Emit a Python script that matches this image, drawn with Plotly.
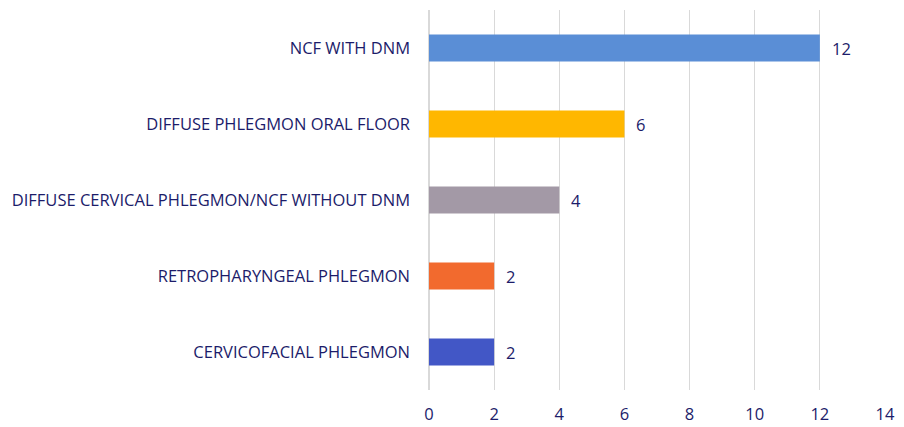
import plotly.graph_objects as go

categories = [
    "CERVICOFACIAL PHLEGMON",
    "RETROPHARYNGEAL PHLEGMON",
    "DIFFUSE CERVICAL PHLEGMON/NCF WITHOUT DNM",
    "DIFFUSE PHLEGMON ORAL FLOOR",
    "NCF WITH DNM",
]
counts = [2, 2, 4, 6, 12]
bar_colors = ["#4257C6", "#F26A2E", "#A399A6", "#FFB700", "#5A8ED6"]
x_ticks = [0, 2, 4, 6, 8, 10, 12, 14]

text_color = "#1C1C6A"
font_family = "'Open Sans', sans-serif"
font_size = 16.5

fig = go.Figure(
    go.Bar(
        y=categories,
        x=counts,
        orientation="h",
        marker=dict(color=bar_colors, line=dict(width=0)),
        width=0.355,
        hoverinfo="x+y",
    )
)

# value labels just to the right of each bar
for cat, val in zip(categories, counts):
    fig.add_annotation(
        x=val,
        y=cat,
        text=str(val),
        showarrow=False,
        xanchor="left",
        xshift=10,
        font=dict(family=font_family, size=font_size, color=text_color),
    )

fig.update_layout(
    width=904,
    height=427,
    margin=dict(l=429, r=19, t=10, b=37, autoexpand=False),
    paper_bgcolor="white",
    plot_bgcolor="white",
    showlegend=False,
    font=dict(family=font_family, color=text_color, size=font_size),
    xaxis=dict(
        range=[0, 14],
        tickvals=x_ticks,
        automargin=False,
        showgrid=True,
        gridcolor="#D9D9D9",
        gridwidth=1,
        zeroline=True,
        zerolinecolor="#D9D9D9",
        showline=False,
        ticks="",
        ticklabelstandoff=12,
        tickfont=dict(size=font_size, color=text_color),
    ),
    yaxis=dict(
        automargin=False,
        showgrid=False,
        zeroline=False,
        showline=False,
        ticks="",
        ticklabelstandoff=18,
        tickfont=dict(size=font_size, color=text_color),
    ),
)

fig.write_html("out.html")
